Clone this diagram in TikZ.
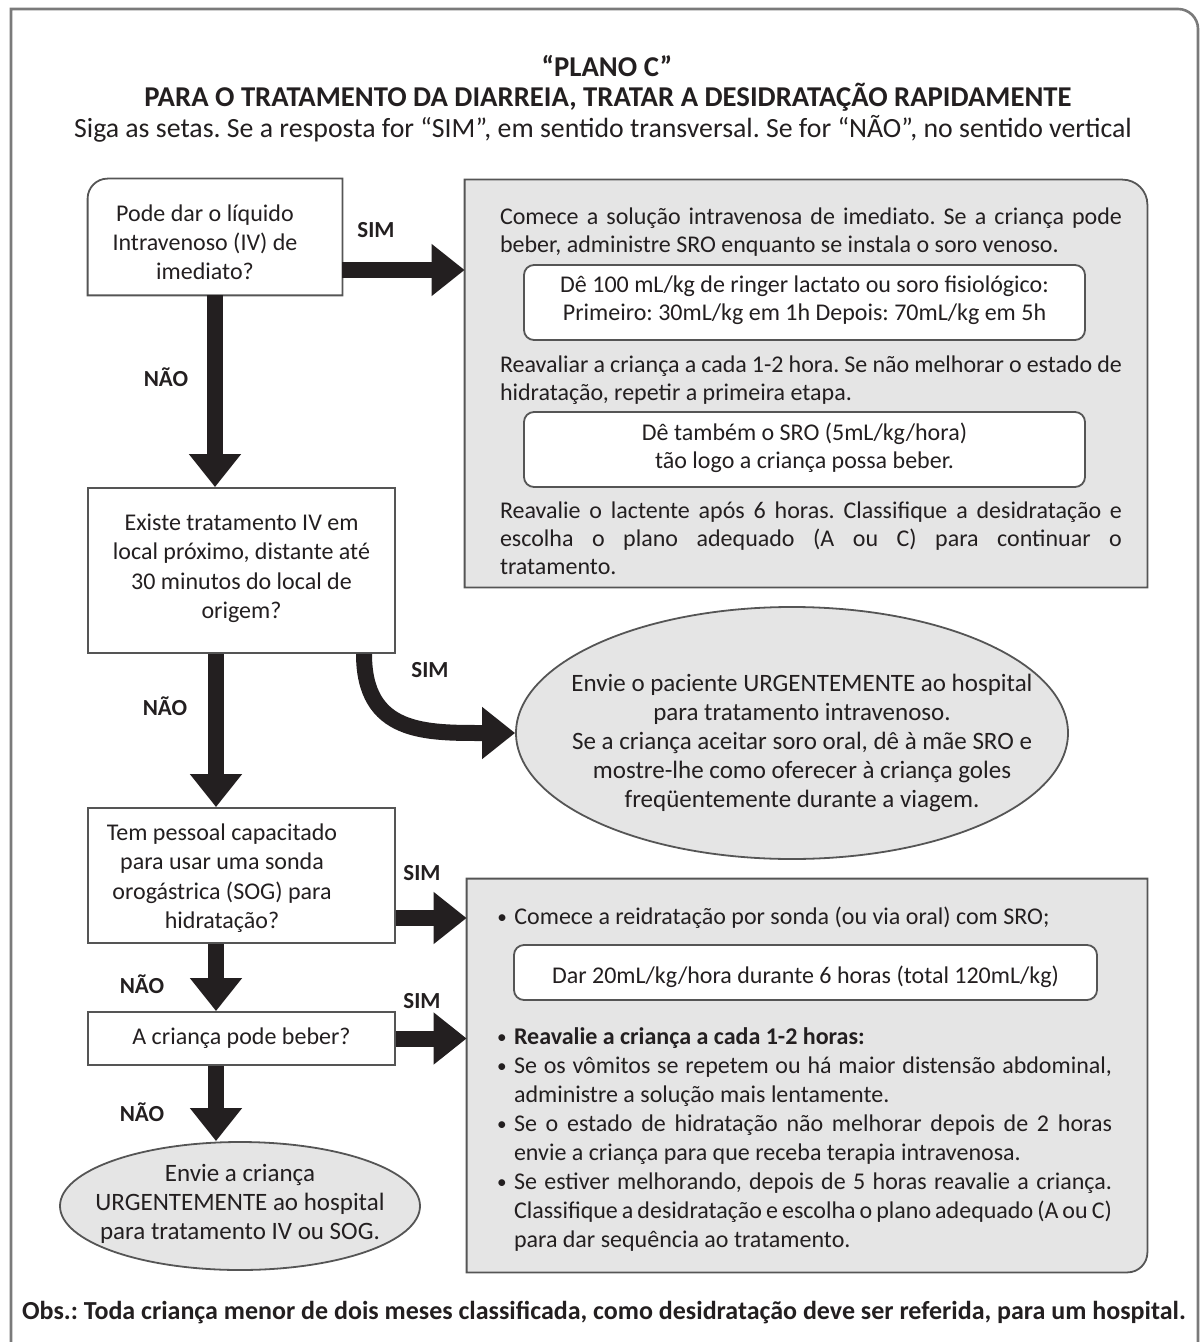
\documentclass[tikz,border=0pt]{standalone}
\usepackage{fontspec}
\usepackage{graphicx}
\setmainfont{Carlito}
\frenchspacing
\usetikzlibrary{arrows.meta,shapes.geometric,positioning}
\definecolor{ink}{HTML}{231F20}
\definecolor{edge}{HTML}{555555}
\definecolor{frameGray}{HTML}{7A7A7A}
\definecolor{panelFill}{HTML}{E5E5E5}
\newcommand{\bul}[1]{\noindent\hangindent=8.5pt\hangafter=1\strut
  \makebox[8.5pt][l]{\raisebox{0.6pt}{\scalebox{0.8}{\textbullet}}}#1\strut\par}
\tikzset{
    struts/.style={execute at begin node=\strut, execute at end node=\strut},
    text low/.style={execute at begin node={\rule{0pt}{\dimexpr0.7\baselineskip+5pt\relax}}},
    big arrow/.style={draw=ink, line width=8pt,
                      -{Triangle[length=16.5pt,width=25pt]}},
    outline/.style={draw=edge, line width=0.9pt},
    panel/.style={outline, fill=panelFill},
    ask box/.style={rectangle, align=center, inner sep=0pt, text=ink,
                    font=\fontsize{12}{14.7}\selectfont, struts},
    ask frame/.style={ask box, outline, fill=white},
    inner box/.style={rectangle, outline, fill=white, rounded corners=5pt,
                      align=center, inner sep=0pt, text=ink,
                      font=\fontsize{12}{14}\selectfont, struts, text low},
    plan text/.style={text width=311pt, align=justify, inner sep=0pt,
                      text=ink, font=\fontsize{12}{14}\selectfont,
                      execute at begin node={\noindent\strut},
                      execute at end node=\strut},
    sog list/.style={text width=307.5pt, align=justify, inner sep=0pt,
                     text=ink, font=\fontsize{12}{14.5}\selectfont},
    send/.style={ellipse, outline, fill=panelFill, inner sep=0pt},
    send text/.style={align=center, inner sep=0pt, text=ink,
                      font=\fontsize{12.5}{14.5}\selectfont, struts},
    answer/.style={font=\bfseries\fontsize{11.5}{13}\selectfont, text=ink},
    title/.style={font=\bfseries\fontsize{14.35}{16}\selectfont, text=ink},
    subtitle/.style={font=\fontsize{13.9}{16}\selectfont, text=ink},
    footnote/.style={font=\bfseries\fontsize{13}{15}\selectfont, text=ink},
}

\begin{document}
\begin{tikzpicture}[x=0.5pt,y=-0.5pt]
\useasboundingbox (0,0) rectangle (1200,1342);

% page frame, open at the bottom
\draw[frameGray, line width=1.3pt] (11,1342) -- (11,9) -- (1178,9)
    arc[start angle=90,end angle=0,radius=10pt] -- (1198,1342);

\node[title] (plano) at (607,66) {“PLANO C”};
\node[title] (titulo) at (608,97)
    {PARA O TRATAMENTO DA DIARREIA, TRATAR A DESIDRATAÇÃO RAPIDAMENTE};
\node[subtitle] (guia) at (603,129)
    {Siga as setas. Se a resposta for “SIM”, em sentido transversal. Se for “NÃO”, no sentido vertical};

% questions down the left column
\node[minimum width=127pt, minimum height=58pt, inner sep=0pt] (q1) at (215,237) {};
\draw[outline] (q1.south west) -- ([yshift=-10pt]q1.north west)
    arc[start angle=180,end angle=90,radius=10pt] -- (q1.north east)
    -- (q1.south east) -- cycle;
\node[ask box] (q1Text) at (205,246.5)
    {Pode dar o líquido\\Intravenoso (IV) de\\imediato?};
\node[ask frame, text low, minimum width=153.5pt, minimum height=82.5pt] (q2) at (241.5,570.5)
    {Existe tratamento IV em\\local próximo, distante até\\30 minutos do local de\\origem?};
\node[ask frame, minimum width=153.5pt, minimum height=67.5pt] (q3) at (241.5,875.5) {};
\node[ask box] (q3Text) at (222,880.5)
    {Tem pessoal capacitado\\para usar uma sonda\\orogástrica (SOG) para\\hidratação?};
\node[ask frame, minimum width=153.5pt, minimum height=26.5pt] (q4) at (241.5,1038.5)
    {A criança pode beber?};
\node[send, minimum width=180pt, minimum height=64pt] (envie) at (240,1206) {};
\node[send text] (envieText) at (240,1206)
    {Envie a criança\\URGENTEMENTE ao hospital\\para tratamento IV ou SOG.};

% plan with intravenous fluids
\node[minimum width=341pt, minimum height=203.5pt, inner sep=0pt] (planIV) at (806,383.5) {};
\draw[panel] (planIV.south west) -- (planIV.north west)
    -- ([xshift=-12.5pt]planIV.north east)
    arc[start angle=90,end angle=0,radius=12.5pt] -- (planIV.south east) -- cycle;
\node[plan text] (ivStart) at (811,233)
    {Comece a solução intravenosa de imediato. Se a criança pode\linebreak
     beber, administre SRO enquanto se instala o soro venoso.};
\node[inner box, minimum width=280.5pt, minimum height=37.5pt] (ivDose) at (804.5,302.5)
    {Dê 100 mL/kg de ringer lactato ou soro fisiológico:\\Primeiro: 30mL/kg em 1h Depois: 70mL/kg em 5h};
\node[plan text] (ivCheck) at (811,380.5)
    {Reavaliar a criança a cada 1-2 hora. Se não melhorar o estado de\linebreak
     hidratação, repetir a primeira etapa.};
\node[inner box, minimum width=280.5pt, minimum height=37.5pt] (ivOral) at (804.5,449.5)
    {Dê também o SRO (5mL/kg/hora)\\tão logo a criança possa beber.};
\node[plan text] (ivAfter) at (811,541)
    {Reavalie o lactente após 6 horas. Classifique a desidratação e\linebreak
     escolha o plano adequado (A ou C) para continuar o\linebreak tratamento.};

% referral to hospital
\node[send, minimum width=276pt, minimum height=126pt] (hosp) at (792,733) {};
\node[send text] (hospText) at (802,745)
    {Envie o paciente URGENTEMENTE ao hospital\\para tratamento intravenoso.\\
     Se a criança aceitar soro oral, dê à mãe SRO e\\
     mostre-lhe como oferecer à criança goles\\freqüentemente durante a viagem.};

% plan with nasogastric tube
\node[minimum width=340pt, minimum height=196.5pt, inner sep=0pt] (planSOG) at (807,1075.5) {};
\draw[panel] (planSOG.north west) -- (planSOG.north east)
    -- ([yshift=10pt]planSOG.south east)
    arc[start angle=0,end angle=-90,radius=10pt] -- (planSOG.south west) -- cycle;
\node[sog list, text width=320pt, anchor=west] (sogStart) at (497,919)
    {\bul{Comece a reidratação por sonda (ou via oral) com SRO;}};
\node[inner box, minimum width=291.5pt, minimum height=27.5pt] (sogDose) at (805.5,972.5)
    {Dar 20mL/kg/hora durante 6 horas (total 120mL/kg)};
\node[sog list] (sogCheck) at (804.5,1140)
    {\bul{\textbf{Reavalie a criança a cada 1-2 horas:}}
     \bul{Se os vômitos se repetem ou há maior distensão abdominal,\linebreak
          administre a solução mais lentamente.}
     \bul{Se o estado de hidratação não melhorar depois de 2 horas\linebreak
          envie a criança para que receba terapia intravenosa.}
     \bul{Se estiver melhorando, depois de 5 horas reavalie a criança.\linebreak
          Classifique a desidratação e escolha o plano adequado (A ou C)\linebreak
          para dar sequência ao tratamento.}};

% arrows: SIM across, NÃO down
\draw[big arrow] ([yshift=-16.5pt]q1.east) -- ([yshift=-16.5pt]q1.east -| planIV.west);
\draw[big arrow] (q1.south) -- (q1.south |- q2.north);
\draw[big arrow] ([xshift=-12.75pt]q2.south) -- ([xshift=-12.75pt]q2.south |- q3.north);
\draw[big arrow] ([xshift=61.25pt]q2.south) .. controls +(0,80) and +(-90,0) .. (hosp.west);
\draw[big arrow] ([yshift=-21.25pt]q3.east) -- ([yshift=-21.25pt]q3.east -| planSOG.west);
\draw[big arrow] ([xshift=-12.75pt]q3.south) -- ([xshift=-12.75pt]q3.south |- q4.north);
\draw[big arrow] (q4.east) -- (q4.east -| planSOG.west);
\draw[big arrow] ([xshift=-12.75pt]q4.south) -- ([xshift=-12.75pt]q4.south |- envie.north);

\node[answer] (sim1) at (376,230) {SIM};
\node[answer] (nao1) at (166,377) {NÃO};
\node[answer] (sim2) at (430,670) {SIM};
\node[answer] (nao2) at (165,706) {NÃO};
\node[answer] (sim3) at (422,873) {SIM};
\node[answer] (nao3) at (142,984) {NÃO};
\node[answer] (sim4) at (422,1001) {SIM};
\node[answer] (nao4) at (142,1112) {NÃO};

\node[footnote] (obs) at (604,1313)
    {Obs.: Toda criança menor de dois meses classificada, como desidratação deve ser referida, para um hospital.};
\end{tikzpicture}
\end{document}
